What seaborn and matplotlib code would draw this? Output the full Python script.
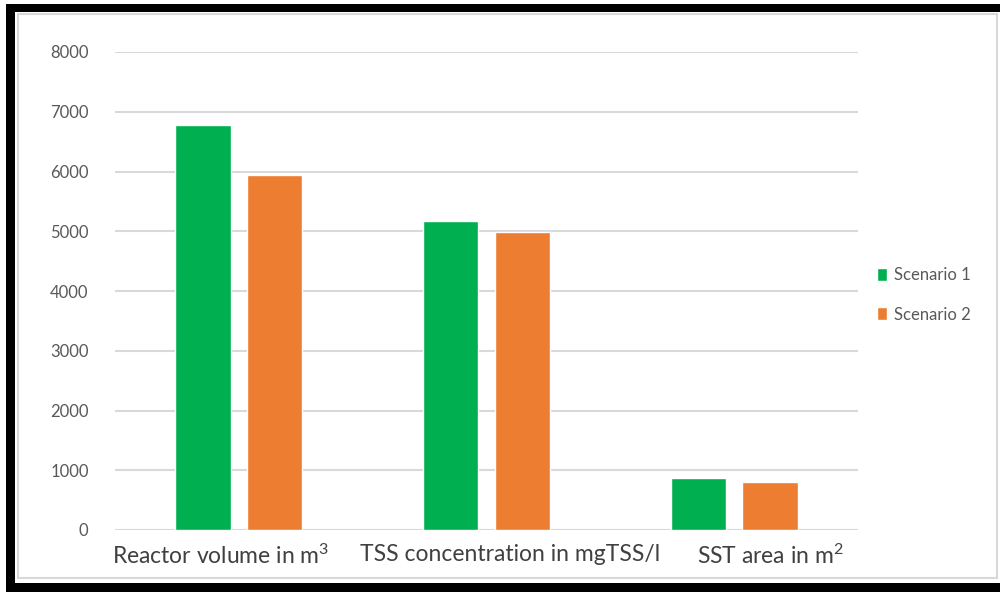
import matplotlib
matplotlib.use("Agg")
import matplotlib.pyplot as plt
import matplotlib.transforms as mtransforms
import seaborn as sns
import pandas as pd
from matplotlib.patches import Rectangle

categories = ["Reactor volume in m$^3$", "TSS concentration in mgTSS/l", "SST area in m$^2$"]
scenario_1 = [6780, 5170, 870]
scenario_2 = [5940, 4980, 795]
series_names = ["Scenario 1", "Scenario 2"]
y_ticks = [0, 1000, 2000, 3000, 4000, 5000, 6000, 7000, 8000]

df = pd.DataFrame({
    "category": categories * 2,
    "value": scenario_1 + scenario_2,
    "series": [series_names[0]] * 3 + [series_names[1]] * 3,
})

sns.set_theme(style="white")
plt.rcParams["font.family"] = ["Lato", "DejaVu Sans"]
plt.rcParams["mathtext.fontset"] = "custom"
plt.rcParams["mathtext.rm"] = "Lato"
plt.rcParams["mathtext.it"] = "Lato"
plt.rcParams["mathtext.default"] = "regular"

fig = plt.figure(figsize=(10, 5.94), dpi=100)
fig.patch.set_facecolor("white")

W, H = 1000, 594
def fx(x):
    return x / W
def fy(y):
    return 1 - y / H

# chart area border (light grey)
fig.patches.append(Rectangle((fx(18), fy(578)), fx(997) - fx(18), fy(14) - fy(578),
                             transform=fig.transFigure, fill=False, edgecolor="#d9d9d9",
                             linewidth=1.5, zorder=0))
# black frame
for (x0, y0, x1, y1) in [(6, 4, 1000, 12), (6, 4, 15, 592), (6, 583, 1000, 592)]:
    fig.patches.append(Rectangle((fx(x0), fy(y1)), fx(x1) - fx(x0), fy(y0) - fy(y1),
                                 transform=fig.transFigure, facecolor="black",
                                 edgecolor="none", zorder=5))

ax = fig.add_axes([fx(115), fy(530), fx(858) - fx(115), fy(52) - fy(530)])
palette = {"Scenario 1": "#00B050", "Scenario 2": "#ED7D31"}
sns.barplot(data=df, x="category", y="value", hue="series", palette=palette,
            width=0.58, gap=0.23, ax=ax, saturation=1, zorder=3)

ax.set_ylim(0, 8000)
ax.set_xlim(-0.5, 2.5)
ax.set_yticks(y_ticks)
ax.set_yticklabels([str(t) for t in y_ticks])
ax.yaxis.grid(True, color="#d9d9d9", linewidth=1.5, zorder=0)
ax.set_axisbelow(True)
for s in ax.spines.values():
    s.set_visible(False)
ax.set_xlabel("")
ax.set_ylabel("")
ax.tick_params(axis="y", length=0, pad=19, labelsize=12, labelcolor="#595959")
ax.tick_params(axis="x", length=0, pad=10, labelsize=16.5, labelcolor="#404040")

# shift category labels slightly as in the reference rendering
shifts_px = [-18, 24, 36]
for lbl, dx in zip(ax.get_xticklabels(), shifts_px):
    lbl.set_transform(lbl.get_transform() +
                      mtransforms.ScaledTranslation(dx / 100, 0, fig.dpi_scale_trans))

handles, labels = ax.get_legend_handles_labels()
ax.legend(handles, labels, loc="center left", bbox_to_anchor=(fx(862), fy(295)),
          bbox_transform=fig.transFigure, frameon=False, fontsize=12,
          labelcolor="#595959", handlelength=0.6, handleheight=0.8,
          handletextpad=0.45, labelspacing=1.4)

fig.savefig("out.png", dpi=100, facecolor="white")
